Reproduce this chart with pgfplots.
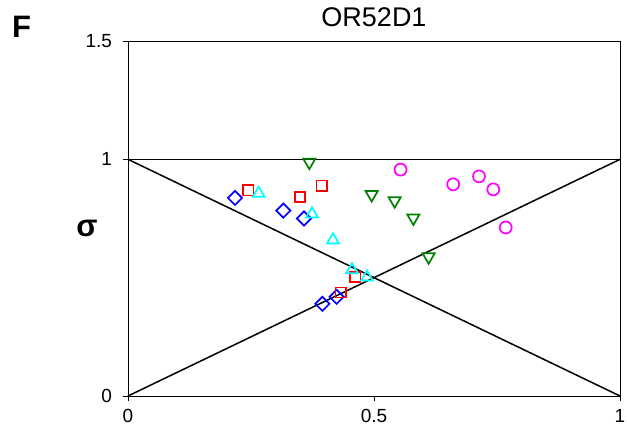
\documentclass[border=0pt]{standalone}
\usepackage{fontspec}
\setmainfont{Liberation Sans}
\usepackage{pgfplots}
\pgfplotsset{compat=1.18}
\definecolor{mblue}{RGB}{0,0,255}
\definecolor{mred}{RGB}{255,0,0}
\definecolor{mcyan}{RGB}{0,255,255}
\definecolor{mgreen}{RGB}{0,128,0}
\definecolor{mmag}{RGB}{255,0,255}
\begin{document}
\begin{tikzpicture}
\useasboundingbox (-128bp,-31bp) rectangle (499bp,396bp);
\begin{axis}[
  scale only axis, width=492bp, height=355bp,
  xmin=0, xmax=1, ymin=0, ymax=1.5,
  xtick={0,0.5,1}, ytick={0,1,1.5},
  xticklabels={0,0.5,1}, yticklabels={0,1,1.5},
  tick pos=left,
  tick align=outside, major tick length=5bp,
  tick style={black, line width=0.9bp},
  axis line style={black, line width=0.9bp},
  ticklabel style={font=\fontsize{19bp}{22bp}\selectfont},
  xticklabel style={yshift=-5bp},
  yticklabel style={xshift=-7.5bp},
  title={OR52D1},
  title style={font=\fontsize{27bp}{30bp}\selectfont, anchor=base, at={(0.5,1)}, yshift=9bp, inner sep=0pt},
  clip=false,
]
\addplot[black, line width=1.5bp] coordinates {(0,1) (1,0)};
\addplot[black, line width=1.5bp] coordinates {(0,0) (1,1)};
\addplot[black, line width=1.6bp] coordinates {(0,1) (1,1)};
% blue diamonds
\addplot[only marks, mark=square, mark size=5bp, mark options={rotate=45, draw=mblue, line width=1.7bp, fill=none}]
  coordinates {(0.2175,0.837) (0.3157,0.7835) (0.3577,0.750) (0.395,0.3895) (0.424,0.419)};
% red squares
\addplot[only marks, mark=square, mark size=5.1bp, mark options={draw=mred, line width=1.7bp, fill=none}]
  coordinates {(0.2445,0.869) (0.3496,0.841) (0.3937,0.889) (0.462,0.502) (0.4323,0.4375)};
% cyan triangles
\addplot[only marks, mark=triangle, mark size=6.8bp, mark options={draw=mcyan, line width=1.7bp, fill=none}]
  coordinates {(0.2657,0.856) (0.374,0.769) (0.4167,0.659) (0.4553,0.533) (0.4858,0.502)};
% green down triangles
\addplot[only marks, mark=triangle, mark size=7bp, mark options={rotate=180, draw=mgreen, line width=1.7bp, fill=none}]
  coordinates {(0.3685,0.988) (0.4953,0.851) (0.542,0.825) (0.58,0.752) (0.611,0.588)};
% magenta circles
\addplot[only marks, mark=o, mark size=6bp, mark options={draw=mmag, line width=1.7bp, fill=none}]
  coordinates {(0.554,0.9565) (0.661,0.8945) (0.7134,0.928) (0.7425,0.873) (0.7677,0.712)};
\node[anchor=base west, inner sep=0pt, font=\fontsize{31bp}{34bp}\selectfont\bfseries] at (rel axis cs:-0.236,1.0085) {F};
\node[anchor=center, inner sep=0pt, font=\fontsize{31bp}{33bp}\selectfont\bfseries] at (rel axis cs:-0.0833,0.473) {σ};
\end{axis}
\end{tikzpicture}
\end{document}
